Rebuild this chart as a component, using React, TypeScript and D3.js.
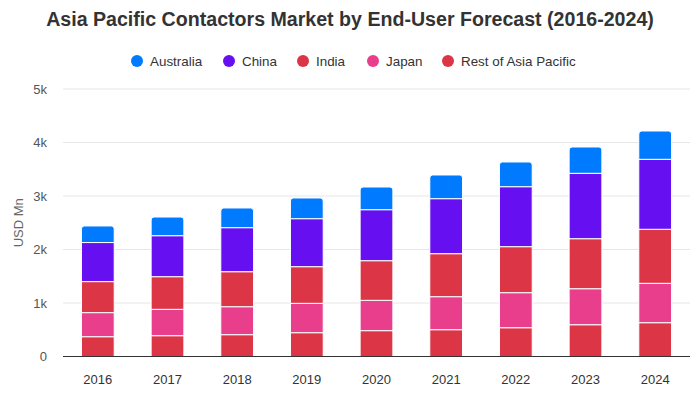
import React from "react";
import * as d3 from "d3";

const years = ["2016", "2017", "2018", "2019", "2020", "2021", "2022", "2023", "2024"];
const seriesNames = ["Australia", "China", "India", "Japan", "Rest of Asia Pacific"];
const seriesColors = ["#007bff", "#6610f2", "#dc3545", "#e83e8c", "#dc3545"];
const australia = [310, 349, 368, 387, 424, 443, 462, 492, 529];
const china = [730, 766, 823, 897, 953, 1028, 1121, 1222, 1308];
const india = [580, 610, 654, 685, 741, 804, 860, 935, 1010];
const japan = [450, 493, 523, 549, 567, 617, 655, 673, 736];
const restOfAsia = [370, 389, 408, 445, 483, 501, 538, 594, 632];
const yTicks = [0, 1000, 2000, 3000, 4000, 5000];

const W = 700, H = 400;
const left = 63, right = 690, top = 89, bottom = 356.5;
const font = "'Liberation Sans', Arial, Helvetica, sans-serif";

export default function App() {
  const values = [australia, china, india, japan, restOfAsia];
  const rows = years.map((y, i) => {
    const r: any = { year: y };
    seriesNames.forEach((s, k) => (r[s] = values[k][i]));
    return r;
  });
  // bottom-up order: Rest, Japan, India, China, Australia
  const stackKeys = [...seriesNames].reverse();
  const stacked = d3.stack().keys(stackKeys)(rows as any);
  const x = d3.scaleBand().domain(years).range([left, right]).paddingInner(0.53).paddingOuter(0.265);
  const y = d3.scaleLinear().domain([0, 5000]).range([bottom, top]);
  const fmt = (v: number) => (v === 0 ? "0" : `${v / 1000}k`);
  const r = 3;

  const legendX = [137, 229, 303, 373, 448];

  return (
    <svg width={W} height={H} style={{ position: "absolute", left: 0, top: 0, fontFamily: font }}>
      <rect width={W} height={H} fill="#fff" />
      <text x={350} y={26} textAnchor="middle" fontSize={19.6} fontWeight={700} fill="#333">
        Asia Pacific Contactors Market by End-User Forecast (2016-2024)
      </text>
      {seriesNames.map((s, i) => (
        <g key={s}>
          <circle cx={legendX[i]} cy={61} r={6} fill={seriesColors[i]} />
          <text x={legendX[i] + 13} y={65.5} fontSize={13.4} fill="#333">{s}</text>
        </g>
      ))}
      {yTicks.map((t) => (
        <g key={t}>
          {t > 0 && <line x1={left} x2={right} y1={y(t)} y2={y(t)} stroke="#e6e6e6" strokeWidth={1} />}
          <text x={47} y={y(t) + 4.5} textAnchor="end" fontSize={13} fill="#555">{fmt(t)}</text>
        </g>
      ))}
      <text transform={`translate(23,${(top + bottom) / 2}) rotate(-90)`} textAnchor="middle" fontSize={13} fill="#666">USD Mn</text>
      {stacked.map((layer, li) => {
        const name = layer.key;
        const color = seriesColors[seriesNames.indexOf(name)];
        const isTop = li === stacked.length - 1;
        return (
          <g key={name}>
            {layer.map((d: any, i: number) => {
              const x0 = x(years[i])!;
              const w = x.bandwidth();
              const y0 = y(d[1]);
              const y1 = y(d[0]);
              if (isTop) {
                const p = `M${x0},${y1}V${y0 + r}Q${x0},${y0} ${x0 + r},${y0}H${x0 + w - r}Q${x0 + w},${y0} ${x0 + w},${y0 + r}V${y1}Z`;
                return <path key={i} d={p} fill={color} stroke="#fff" strokeWidth={1} />;
              }
              return <rect key={i} x={x0} y={y0} width={w} height={y1 - y0} fill={color} stroke="#fff" strokeWidth={1} />;
            })}
          </g>
        );
      })}
      <line x1={left} x2={right} y1={bottom} y2={bottom} stroke="#333" strokeWidth={1} />
      {years.map((yr) => (
        <text key={yr} x={x(yr)! + x.bandwidth() / 2} y={384} textAnchor="middle" fontSize={13} fill="#333">{yr}</text>
      ))}
    </svg>
  );
}
